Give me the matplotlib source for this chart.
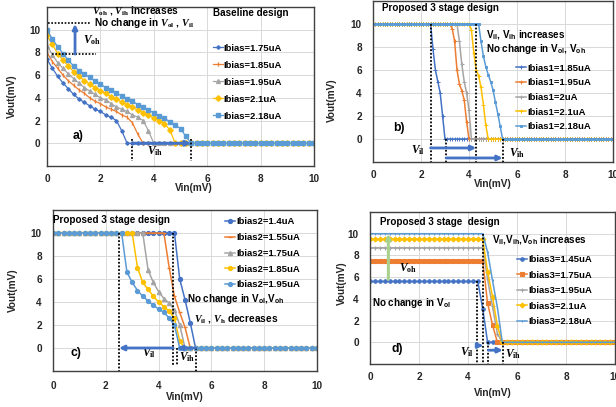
import numpy as np
import matplotlib
matplotlib.use("Agg")
import matplotlib.pyplot as plt

plt.rcParams['font.family'] = ['Liberation Sans', 'DejaVu Sans']
plt.rcParams['font.weight'] = 'bold'
plt.rcParams['mathtext.fontset'] = 'custom'
plt.rcParams['mathtext.rm'] = 'Liberation Serif:bold'
plt.rcParams['mathtext.it'] = 'Liberation Serif:italic:bold'
plt.rcParams['mathtext.bf'] = 'Liberation Serif:bold'
plt.rcParams['mathtext.sf'] = 'Liberation Sans:bold'

# Excel-Farben
BLUE, ORANGE, GRAY, GOLD, LBLUE = '#4472C4', '#ED7D31', '#A5A5A5', '#FFC000', '#5B9BD5'
GREEN = '#A9D18E'
FS = 6.8
TXT = '#262626'

# --- Daten ---
# a) Baseline design, Vin-Raster 0.2 mV
x_a = np.round(np.arange(0, 10.01, 0.2), 2)
labels_a = ['Ibias=1.75uA', 'Ibias=1.85uA', 'Ibias=1.95uA', 'Ibias=2.1uA', 'Ibias=2.18uA']
a_175 = [7.4, 6.6, 5.9, 5.3, 4.8, 4.3, 3.9, 3.6, 3.3, 3.0, 2.8, 2.5, 2.3, 2.0, 1.1, 0.0] + [0.0] * 35
a_185 = [8.0, 7.2, 6.6, 6.0, 5.5, 5.1, 4.7, 4.4, 4.0, 3.7, 3.5, 3.2, 3.0, 2.8, 2.5, 2.3,
         1.8, 0.8, 0.0] + [0.0] * 32
a_195 = [8.6, 7.8, 7.1, 6.6, 6.1, 5.7, 5.3, 4.9, 4.6, 4.3, 4.0, 3.8, 3.5, 3.2, 3.0, 2.8,
         2.5, 2.3, 2.0, 1.1, 0.0] + [0.0] * 30
a_210 = [9.5, 8.7, 7.9, 7.3, 6.8, 6.3, 5.9, 5.5, 5.2, 4.9, 4.6, 4.4, 4.1, 3.9, 3.6, 3.4,
         3.2, 2.9, 2.7, 2.5, 2.2, 2.0, 1.7, 1.2, 0.0] + [0.0] * 26
a_218 = [10.0, 9.2, 8.5, 7.9, 7.3, 6.8, 6.4, 6.1, 5.8, 5.5, 5.2, 4.9, 4.7, 4.4, 4.2, 3.9,
         3.7, 3.4, 3.2, 2.9, 2.7, 2.4, 2.2, 1.9, 1.6, 1.3, 0.6, 0.0] + [0.0] * 23

# b) Ibias1, Vin-Raster 0.1 mV
x_b = np.round(np.arange(0, 10.001, 0.1), 2)
labels_b = ['Ibias1=1.85uA', 'Ibias1=1.95uA', 'Ibias1=2uA', 'Ibias1=2.1uA', 'Ibias1=2.18uA']
b_185 = [10.0] * 25 + [7.8, 6.0, 5.0, 4.0, 2.0] + [0.0] * 71
b_195 = [10.0] * 33 + [9.6, 8.5, 6.0, 4.8, 4.2, 3.4, 1.5] + [0.0] * 61
b_200 = [10.0] * 36 + [8.5, 6.5, 5.0, 4.0, 2.5] + [0.0] * 60
b_210 = [10.0] * 41 + [9.5, 7.5, 6.0, 5.5, 4.5, 3.0, 1.2] + [0.0] * 53
b_218 = [10.0] * 45 + [8.5, 7.2, 6.3, 5.6, 5.0, 4.3, 3.2, 2.2, 1.1] + [0.0] * 47

# c) Ibias2, Vin-Raster 0.2 mV
x_c = np.round(np.arange(0, 10.01, 0.2), 2)
labels_c = ['Ibias2=1.4uA', 'Ibias2=1.55uA', 'Ibias2=1.75uA', 'Ibias2=1.85uA', 'Ibias2=1.95uA']
c_140 = [10.0] * 24 + [6.0, 4.2, 2.2] + [0.0] * 24
c_155 = [10.0] * 22 + [7.0, 4.5, 3.1, 1.8] + [0.0] * 25
c_175 = [10.0] * 18 + [6.8, 5.7, 4.9, 4.3, 3.9, 3.3, 2.0] + [0.0] * 26
c_185 = [10.0] * 16 + [7.0, 5.7, 5.1, 4.5, 4.0, 3.6, 3.2, 2.6, 0.6] + [0.0] * 26
c_195 = [10.0] * 14 + [6.6, 5.7, 5.0, 4.5, 4.1, 3.7, 3.4, 3.1, 2.6, 2.0] + [0.0] * 27

# d) Ibias3, Vin-Raster 0.2 mV
x_d = np.round(np.arange(0, 10.01, 0.2), 2)
labels_d = ['Ibias3=1.45uA', 'Ibias3=1.75uA', 'Ibias3=1.95uA', 'Ibias3=2.1uA', 'Ibias3=2.18uA']
d_145 = [5.6] * 23 + [3.1] + [0.0] * 27
d_175 = [7.5] * 24 + [3.6, 1.6] + [0.0] * 25
d_195 = [8.7] * 24 + [5.8, 3.3, 0.8] + [0.0] * 24
d_210 = [9.5] * 24 + [6.5, 4.2, 1.5] + [0.0] * 24
d_218 = [10.0] * 24 + [8.3, 5.7, 3.2] + [0.0] * 24

colors = [BLUE, ORANGE, GRAY, GOLD, LBLUE]


def style(ax, xpad, ypad):
    ax.set_xlim(0, 10)
    ax.set_ylim(-2, 12)
    ax.set_xticks(range(0, 11, 2))
    ax.set_yticks(range(0, 11, 2))
    ax.grid(True, color='#D9D9D9', lw=0.7)
    ax.set_axisbelow(True)
    for s in ax.spines.values():
        s.set_color('#404040')
        s.set_linewidth(1.0)
    ax.tick_params(axis='x', length=0, labelsize=FS + 0.4, colors=TXT, pad=xpad)
    ax.tick_params(axis='y', length=0, labelsize=FS + 0.4, colors=TXT, pad=ypad)
    for t in ax.get_xticklabels() + ax.get_yticklabels():
        t.set_fontweight('bold')


def labels(ax, xl, yl):
    ax.set_xlabel('Vin(mV)', fontsize=FS + 0.4, color=TXT, fontweight='bold', va='center')
    ax.set_ylabel('Vout(mV)', fontsize=FS + 0.4, color=TXT, fontweight='bold', va='center')
    ax.xaxis.set_label_coords(*xl)
    ax.yaxis.set_label_coords(*yl)


def dots(ax, x, y0, y1):
    ax.plot([x, x], [y0, y1], color='black', ls=(0, (1, 1)), lw=1.3, zorder=5)


def arrow(ax, x0, y0, x1, y1, color=BLUE, lw=2.0):
    ax.annotate('', xy=(x1, y1), xytext=(x0, y0), zorder=6,
                arrowprops=dict(arrowstyle='-|>', color=color, lw=lw,
                                mutation_scale=7, shrinkA=0, shrinkB=0))


def legend(ax, anchor, spacing):
    ax.legend(loc='upper left', bbox_to_anchor=anchor, frameon=False,
              prop={'size': FS, 'weight': 'bold'}, handlelength=1.1,
              handletextpad=0.1, labelspacing=spacing, borderpad=0, borderaxespad=0)


fig = plt.figure(figsize=(6.16, 4.07), dpi=100)
ax_a = fig.add_axes([47 / 616, 1 - 166 / 407, 267 / 616, 159 / 407])
ax_b = fig.add_axes([373 / 616, 1 - 162 / 407, 240 / 616, 161 / 407])
ax_c = fig.add_axes([53 / 616, 1 - 371 / 407, 264 / 616, 161 / 407])
ax_d = fig.add_axes([370 / 616, 1 - 364 / 407, 245 / 616, 152 / 407])

# ---------- a) ----------
ax = ax_a
style(ax, 6, 5)
marks = [('D', 1.8), ('|', 2.5), ('^', 2.8), ('D', 2.8), ('s', 3.2)]
for ys, lab, c, (m, ms) in zip([a_175, a_185, a_195, a_210, a_218], labels_a, colors, marks):
    ax.plot(x_a, ys, color=c, lw=0.9, marker=m, ms=ms, label=lab)
legend(ax, (0.62, 0.77), 0.85)
labels(ax, (0.55, -0.14), (-0.13, 0.44))
ax.text(1.67, 11.7, r'$V_{\rm oh}$ , $V_{\rm ih}$ increases', fontsize=FS + 0.5, va='center')
ax.text(1.75, 10.55, r'No change in $V_{\rm ol}$ , $V_{\rm il}$', fontsize=FS + 0.5, va='center')
ax.text(6.23, 11.45, 'Baseline design', fontsize=FS + 0.3, va='center')
ax.plot([0.05, 1.65], [10.55, 10.55], color='black', ls=(0, (1, 1)), lw=1.2)
ax.plot([0.2, 1.85], [7.85, 7.85], color='black', ls=(0, (1, 1)), lw=1.2)
arrow(ax, 1.05, 7.85, 1.05, 10.5)
ax.text(1.35, 9.1, r'$V_{\rm oh}$', fontsize=FS + 1.5, va='center')
ax.text(1.17, 0.67, 'a)', fontsize=FS + 2, ha='center', va='center')
dots(ax, 3.2, 0.4, -1.6)
dots(ax, 5.4, 0.4, -1.6)
arrow(ax, 3.2, 0, 5.4, 0, lw=2.2)
ax.text(3.75, -0.65, r'$V_{\rm ih}$', fontsize=FS + 1.5, va='center')

# ---------- b) ----------
ax = ax_b
style(ax, 6, 8)
marks = [('+', 2.5), ('+', 2.5), ('+', 2.5), ('+', 2.5), ('s', 1.5)]
for ys, lab, c, (m, ms) in zip([b_185, b_195, b_200, b_210, b_218], labels_b, colors, marks):
    ax.plot(x_b, ys, color=c, lw=1.1, marker=m, ms=ms, mew=0.7, label=lab)
legend(ax, (0.595, 0.61), 0.6)
labels(ax, (0.5, -0.137), (-0.17, 0.385))
ax.text(0.36, 11.36, 'Proposed 3 stage design', fontsize=FS + 0.3, va='center')
ax.text(4.7, 9.05, r'$\mathsf{V}_{\mathsf{il}}$, $\mathsf{V}_{\mathsf{ih}}$ increases', fontsize=FS + 0.3, va='center')
ax.text(4.7, 7.8, r'No change in $\mathsf{V}_{\mathsf{ol}}$, $\mathsf{V}_{\mathsf{oh}}$', fontsize=FS + 0.3, va='center')
ax.text(1.1, 0.95, 'b)', fontsize=FS + 2, ha='center', va='center')
dots(ax, 2.4, 10, -2)
dots(ax, 3.05, 0, -2)
dots(ax, 4.3, 10, -2)
dots(ax, 5.4, 0, -2)
arrow(ax, 2.4, -0.78, 4.3, -0.78)
arrow(ax, 3.05, -1.65, 5.4, -1.65)
ax.text(2.17, -0.93, r'$V_{\rm il}$', fontsize=FS + 1.5, ha='right', va='center')
ax.text(5.68, -1.2, r'$V_{\rm ih}$', fontsize=FS + 1.5, va='center')

# ---------- c) ----------
ax = ax_c
style(ax, 7, 8)
marks = [('o', 2.8), ('_', 3), ('^', 3), ('o', 2.8), ('o', 2.8)]
for ys, lab, c, (m, ms) in zip([c_140, c_155, c_175, c_185, c_195], labels_c, colors, marks):
    ax.plot(x_c, ys, color=c, lw=1.1, marker=m, ms=ms, label=lab)
legend(ax, (0.65, 0.955), 0.72)
labels(ax, (0.5, -0.16), (-0.15, 0.5))
ax.text(0.0, 11.1, 'Proposed 3 stage design', fontsize=FS + 0.3, va='center')
ax.text(5.07, 4.26, r'No change in $\mathsf{V}_{\mathsf{ol}}$,$\mathsf{V}_{\mathsf{oh}}$', fontsize=FS + 0.3, va='center')
ax.text(5.35, 2.55, r'$V_{\rm il}$ , $V_{\rm h}$ decreases', fontsize=FS + 0.5, va='center')
ax.text(0.86, -0.4, 'c)', fontsize=FS + 2, ha='center', va='center')
dots(ax, 2.5, 10, -2)
dots(ax, 4.55, 10, -1.5)
dots(ax, 4.7, 0, -1.5)
dots(ax, 5.4, 0, -2)
arrow(ax, 4.55, 0, 2.5, 0)
arrow(ax, 5.4, 0, 4.7, 0)
ax.text(3.65, -0.45, r'$V_{\rm il}$', fontsize=FS + 1.5, ha='center', va='center')
ax.text(5.1, -0.82, r'$V_{\rm ih}$', fontsize=FS + 1.5, ha='center', va='center')

# ---------- d) ----------
ax = ax_d
style(ax, 6, 8)
marks = [('o', 2.5), ('s', 3), ('+', 3), ('D', 2.5), ('|', 2)]
for ys, lab, c, (m, ms) in zip([d_145, d_175, d_195, d_210, d_218], labels_d, colors, marks):
    ax.plot(x_d, ys, color=c, lw=1.1, marker=m, ms=ms, mew=0.8, label=lab)
legend(ax, (0.6, 0.715), 0.68)
labels(ax, (0.5, -0.19), (-0.113, 0.53))
ax.text(0.41, 11.1, 'Proposed 3 stage  design', fontsize=FS + 0.3, va='center')
ax.text(5.0, 9.5, r'$\mathsf{V}_{\mathsf{il}}$,$\mathsf{V}_{\mathsf{ih}}$,$\mathsf{V}_{\mathsf{oh}}$ increases',
        fontsize=FS + 0.3, va='center')
ax.text(0.07, 3.6, r'No change in $\mathsf{V}_{\mathsf{ol}}$', fontsize=FS + 0.3, va='center')
arrow(ax, 0.75, 5.8, 0.75, 10.0, color=GREEN, lw=2.2)
ax.text(1.56, 6.8, r'$V_{\rm oh}$', fontsize=FS + 1.5, ha='center', va='center')
ax.text(1.1, -0.6, 'd)', fontsize=FS + 2, ha='center', va='center')
dots(ax, 4.38, 5.6, -2)
dots(ax, 4.62, 10, -2)
dots(ax, 4.83, 0, -2)
dots(ax, 5.42, 0, -2)
arrow(ax, 4.38, -0.3, 4.62, -0.3)
arrow(ax, 4.83, -0.73, 5.42, -0.73)
ax.text(3.95, -0.9, r'$V_{\rm il}$', fontsize=FS + 1.5, ha='center', va='center')
ax.text(5.85, -1.07, r'$V_{\rm ih}$', fontsize=FS + 1.5, ha='center', va='center')

fig.savefig('out.png', dpi=100, facecolor='white')
